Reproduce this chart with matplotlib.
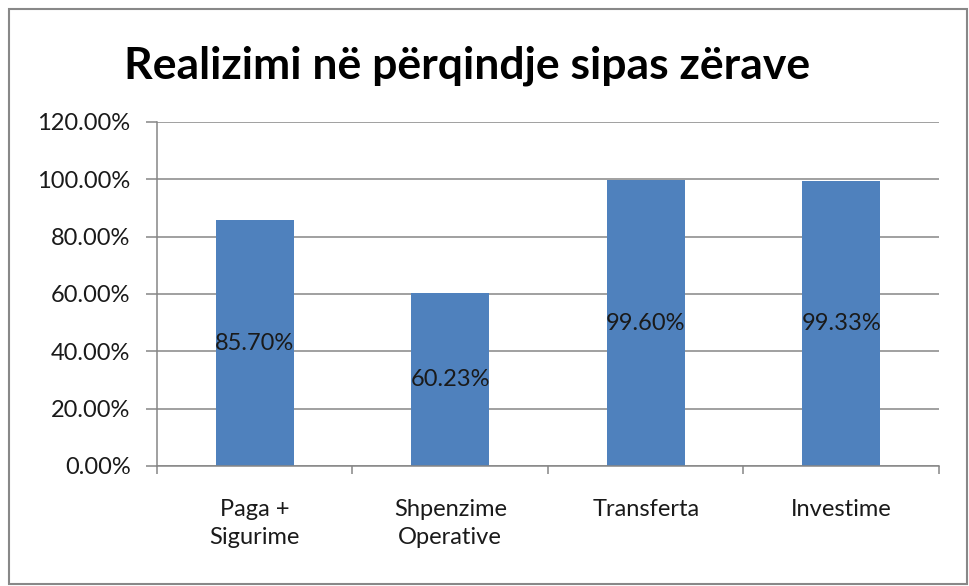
import numpy as np
import matplotlib.pyplot as plt
from matplotlib.patches import FancyBboxPatch

# budget execution by item
categories = ["Paga +\nSigurime", "Shpenzime\nOperative", "Transferta", "Investime"]
values = [85.70, 60.23, 99.60, 99.33]
yticks = [0, 20, 40, 60, 80, 100, 120]

bar_color = "#4F81BD"
grid_color = "#868686"
text_color = "#1a1a1a"

plt.rcParams['font.family'] = ['Lato', 'DejaVu Sans']

fig = plt.figure(figsize=(9.69, 5.86), dpi=100)
ax = fig.add_axes([0.162, 0.2048, 0.807, 0.5872])

x = np.arange(len(categories))
ax.bar(x, values, width=0.4, color=bar_color, zorder=2)

# value labels sit in the middle of each bar
for xi, v in zip(x, values):
    ax.text(xi, v / 2, f"{v:.2f}%", ha="center", va="center", fontsize=17, color=text_color, zorder=3)

ax.set_xlim(-0.5, len(categories) - 0.5)
ax.set_ylim(0, 120)
ax.set_yticks(yticks)
ax.set_yticklabels([f"{t:.2f}%" for t in yticks], fontsize=17, color=text_color)
ax.yaxis.grid(True, color=grid_color, linewidth=1.1, zorder=0)

# labels at centers, tick marks at category boundaries
ax.set_xticks(x)
ax.set_xticklabels(categories, fontsize=17, color=text_color, linespacing=1.4)
ax.set_xticks(np.arange(-0.5, len(categories)), minor=True)
ax.tick_params(axis="x", which="major", length=0, pad=24)
ax.tick_params(axis="x", which="minor", length=6, color=grid_color, width=1.1)
ax.tick_params(axis="y", length=8, color=grid_color, width=1.1, pad=11)

for side in ["top", "right"]:
    ax.spines[side].set_visible(False)
for side in ["left", "bottom"]:
    ax.spines[side].set_color(grid_color)
    ax.spines[side].set_linewidth(1.1)

fig.text(0.482, 0.888, "Realizimi në përqindje sipas zërave", ha="center", va="center",
         fontsize=32, fontweight="bold", color="#000000")

# outer chart frame
frame = FancyBboxPatch((0.0095, 0.004), 0.988, 0.98, boxstyle="square,pad=0",
                       transform=fig.transFigure, fill=False, edgecolor="#888888", linewidth=1.5)
fig.patches.append(frame)

fig.savefig("out.png", dpi=100)
